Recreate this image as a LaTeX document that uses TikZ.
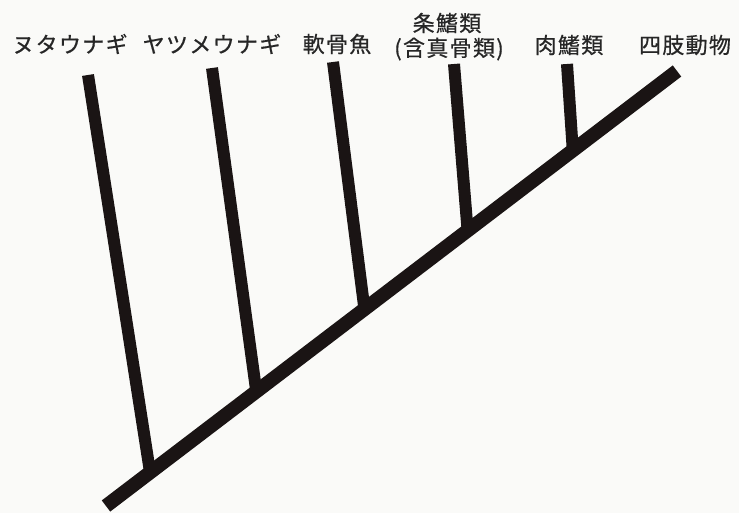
\documentclass[tikz,border=0pt]{standalone}
\usepackage{fontspec}
\newfontfamily\jp[LetterSpace=6,FakeBold=0.6]{Noto Sans CJK JP}
\definecolor{bg}{HTML}{FAFAF8}
\definecolor{ink}{HTML}{1A1414}
\definecolor{txt}{HTML}{262626}
\begin{document}
\begin{tikzpicture}[x=1pt,y=-1pt,
  trunk/.style={line width=14pt,draw=ink},
  twig/.style={line width=12pt,draw=ink},
  lab/.style={font=\jp\fontsize{22}{25}\selectfont,text=txt,inner sep=0pt}]
\fill[bg] (0,0) rectangle (739,513);
\useasboundingbox (0,0) rectangle (739,513);
% trunk
\coordinate (r) at (106,506);
\coordinate (t) at (677,71);
\draw[trunk] (r) -- (t);
% junctions on trunk
\path (r) -- (t) coordinate[pos=0.0772] (j1)
                 coordinate[pos=0.2632] (j2)
                 coordinate[pos=0.4526] (j3)
                 coordinate[pos=0.6333] (j4)
                 coordinate[pos=0.8175] (j5);
\coordinate (b1) at (88,75);
\coordinate (b2) at (212,68);
\coordinate (b3) at (333,62);
\coordinate (b4) at (454,64);
\coordinate (b5) at (567,64);
\draw[twig] (b1) -- (j1);
\draw[twig] (b2) -- (j2);
\draw[twig] (b3) -- (j3);
\draw[twig] (b4) -- (j4);
\draw[twig] (b5) -- (j5);
% labels
\node[lab] (l1) at (70,44) {ヌタウナギ};
\node[lab] (l2) at (212,44) {ヤツメウナギ};
\node[lab] (l3) at (337,44) {軟骨魚};
\node[lab] (l4) at (447,23) {条鰭類};
\node[lab] (l4b) at (449,49) {(含真骨類)};
\node[lab] (l5) at (569,45) {肉鰭類};
\node[lab] (l6) at (685,45) {四肢動物};
\end{tikzpicture}
\end{document}
